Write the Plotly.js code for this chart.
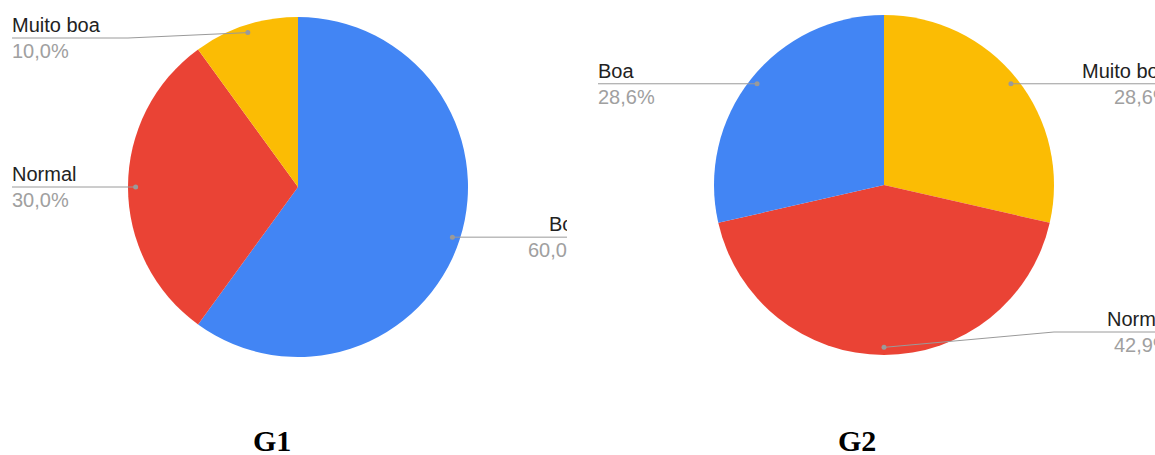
<!DOCTYPE html>
<html>
<head>
<meta charset="utf-8">
<script src="https://cdn.plot.ly/plotly-3.0.1.min.js"></script>
<style>
  html, body { margin: 0; padding: 0; background: #fff; overflow: hidden; }
  .clip { position: absolute; top: 0; height: 455px; overflow: hidden; }
  #clip1 { left: 0; width: 567px; }
  #clip2 { left: 567px; width: 588px; }
  #g2 { position: absolute; left: -567px; top: 0; }
</style>
</head>
<body>
<div id="clip1" class="clip"><div id="g1"></div></div>
<div id="clip2" class="clip"><div id="g2"></div></div>
<script>
// Survey answers, in percent, for the two groups
const categoriesG1 = ['Boa', 'Normal', 'Muito boa'];
const valuesG1 = [60.0, 30.0, 10.0];
const categoriesG2 = ['Muito boa', 'Normal', 'Boa'];
const valuesG2 = [28.6, 42.9, 28.6];
const chartTitles = ['G1', 'G2'];

const sliceColors = { 'Boa': '#4285F4', 'Normal': '#EA4335', 'Muito boa': '#FBBC04' };

const W = 1155, H = 455;
const px = x => x / W;
const py = y => 1 - y / H;

function fmtPct(v) {
  return v.toFixed(1).replace('.', ',') + '%';
}

function drawPie(divId, cats, vals, geom, title) {
  const { cx, cy, R, titleX, titleY } = geom;
  const total = vals.reduce((a, b) => a + b, 0);
  const shapes = [];
  const annotations = [];
  const grey = '#9a9a9a';

  let start = 0;
  vals.forEach((v, i) => {
    const share = v / total;
    const mid = (start + share / 2) * 2 * Math.PI;   // clockwise from 12 o'clock
    start += share;
    const sx = Math.sin(mid), sy = Math.cos(mid);
    const dotX = cx + 0.955 * R * sx;
    const dotY = cy - 0.955 * R * sy;
    const left = sx < 0;
    // keep the label block within the vertical extent of the pie
    const lineY = Math.min(Math.max(dotY, cy - R + 21), cy + R - 23);
    const lineEndX = left ? cx - 286 : cx + 287;
    const textX = left ? lineEndX - 2 : lineEndX + 2;   // offset the annotation box padding
    const edgeX = left ? cx - R : cx + R;

    let path = `M ${px(dotX)} ${py(dotY)}`;
    if (Math.abs(lineY - dotY) > 0.5) path += ` L ${px(edgeX)} ${py(lineY)}`;
    path += ` L ${px(lineEndX)} ${py(lineY)}`;
    shapes.push({ type: 'path', xref: 'paper', yref: 'paper', path,
                  line: { color: grey, width: 1 } });
    shapes.push({ type: 'circle', xref: 'paper', yref: 'paper',
                  x0: px(dotX - 2.5), x1: px(dotX + 2.5),
                  y0: py(dotY + 2.5), y1: py(dotY - 2.5),
                  fillcolor: grey, line: { width: 0 } });

    annotations.push({ xref: 'paper', yref: 'paper', showarrow: false,
      x: px(textX), y: py(lineY), xanchor: left ? 'left' : 'right', yanchor: 'bottom',
      text: cats[i], font: { family: 'Liberation Sans, Arial, sans-serif', size: 20, color: '#222222' } });
    annotations.push({ xref: 'paper', yref: 'paper', showarrow: false,
      x: px(textX), y: py(lineY), xanchor: left ? 'left' : 'right', yanchor: 'top',
      text: fmtPct(share * 100), font: { family: 'Liberation Sans, Arial, sans-serif', size: 20, color: '#a0a0a0' } });
  });

  annotations.push({ xref: 'paper', yref: 'paper', showarrow: false,
    x: px(titleX), y: py(titleY), xanchor: 'center', yanchor: 'middle',
    text: '<b>' + title + '</b>',
    font: { family: 'Liberation Serif, Times New Roman, serif', size: 30, color: '#000000' } });

  const trace = {
    type: 'pie', labels: cats, values: vals, sort: false,
    direction: 'clockwise', rotation: 0, textinfo: 'none', hoverinfo: 'skip',
    marker: { colors: cats.map(c => sliceColors[c]), line: { width: 0 } },
    domain: { x: [px(cx - R), px(cx + R)], y: [py(cy + R), py(cy - R)] },
    showlegend: false
  };

  Plotly.newPlot(divId, [trace], {
    width: W, height: H, margin: { l: 0, r: 0, t: 0, b: 0 },
    paper_bgcolor: '#ffffff', plot_bgcolor: '#ffffff',
    shapes, annotations, showlegend: false
  }, { staticPlot: true, displayModeBar: false });
}

drawPie('g1', categoriesG1, valuesG1, { cx: 298, cy: 187, R: 170, titleX: 272, titleY: 440 }, chartTitles[0]);
drawPie('g2', categoriesG2, valuesG2, { cx: 884, cy: 185, R: 170, titleX: 857, titleY: 440 }, chartTitles[1]);
</script>
</body>
</html>
